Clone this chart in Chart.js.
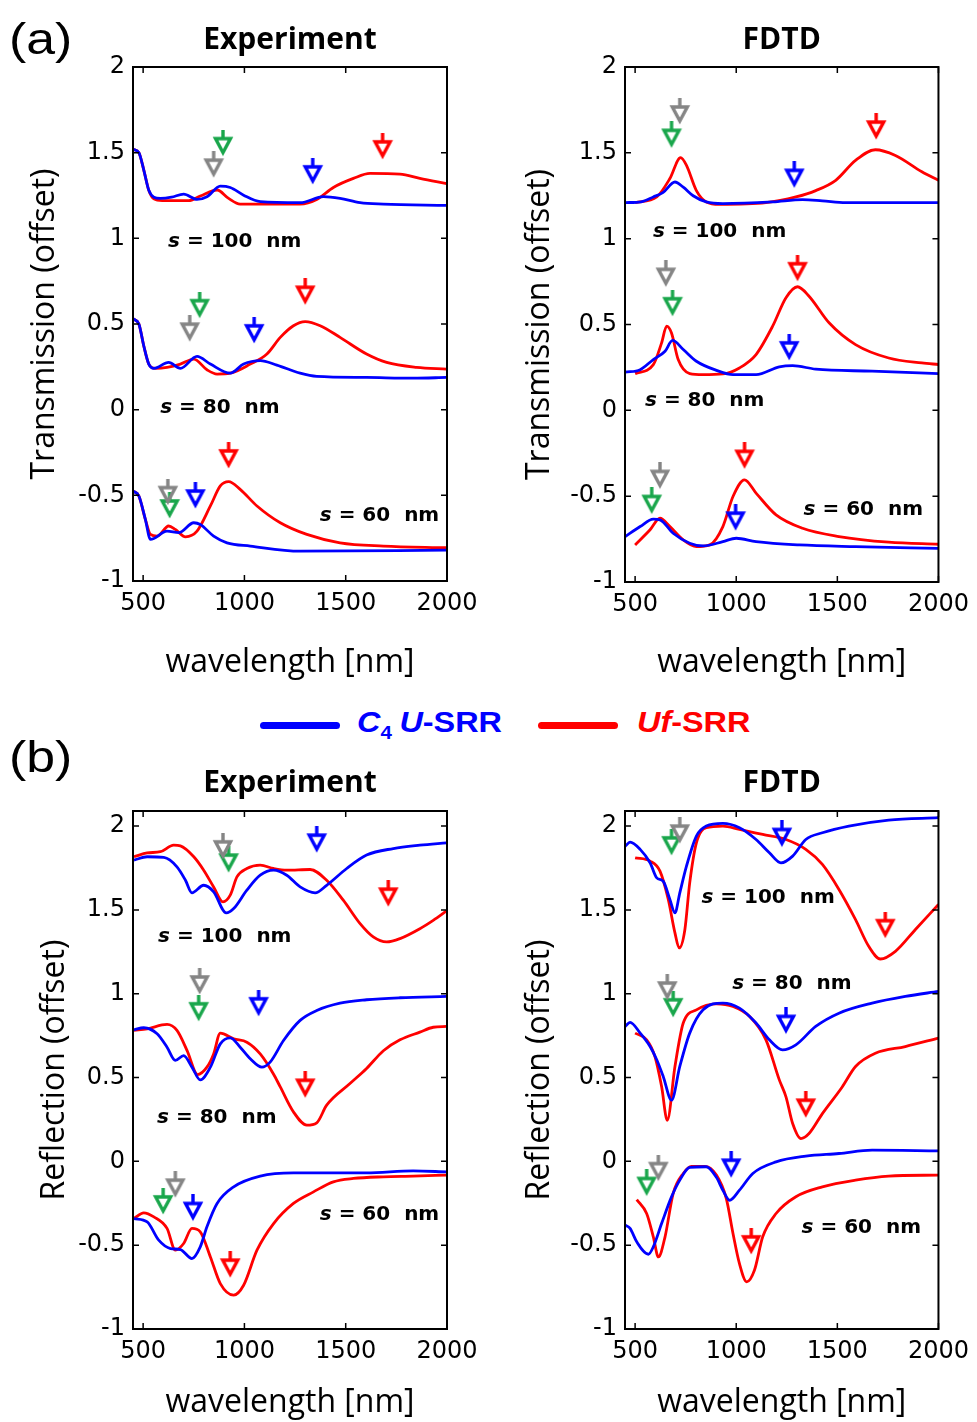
<!DOCTYPE html>
<html lang="en">
<head>
<meta charset="UTF-8" />
<title>C4 U-SRR vs Uf-SRR spectra</title>
<script src="https://cdn.jsdelivr.net/npm/chart.js"></script>
<style>
    body { margin: 0; background: #fff; }
    #page { position: relative; width: 977px; height: 1422px; overflow: hidden; font-family: "Liberation Sans", Arial, sans-serif; }
    canvas { position: absolute; }
    .tag { position: absolute; font-size: 45px; color: #000; transform: scaleX(1.15); transform-origin: left top; }
    .legend { position: absolute; top: 705px; left: 0; width: 977px; height: 40px; }
    .swatch { position: absolute; top: 17px; width: 80px; height: 7px; border-radius: 4px; }
    .ltext { position: absolute; top: 0; font-weight: bold; font-size: 30px; white-space: nowrap; transform: scaleX(1.08); transform-origin: left top; }
    .ltext i { font-style: italic; }
    .ltext sub { font-size: 19px; font-style: normal; vertical-align: -7px; margin-right: 7px; }
</style>
</head>
<body>
<div id="page">
    <div class="tag" style="left:9px; top:13px;">(a)</div>
    <div class="tag" style="left:9px; top:731px;">(b)</div>
    <canvas id="tExp" width="490" height="690" style="left:0; top:0;"></canvas>
    <canvas id="tFdtd" width="487" height="690" style="left:490px; top:0;"></canvas>
    <canvas id="rExp" width="490" height="672" style="left:0; top:750px;"></canvas>
    <canvas id="rFdtd" width="487" height="672" style="left:490px; top:750px;"></canvas>
    <div class="legend">
        <div class="swatch" style="left:260px; background:#0000ff;"></div>
        <div class="ltext" style="left:357px; color:#0000ff;"><i>C</i><sub>4</sub><i>U</i>-SRR</div>
        <div class="swatch" style="left:538px; background:#ff0000;"></div>
        <div class="ltext" style="left:637px; color:#ff0000;"><i>Uf</i>-SRR</div>
    </div>
</div>
<script>
// axis ticks
const wavelengthTicks = [500, 1000, 1500, 2000];
const offsetTicks = [-1, -0.5, 0, 0.5, 1, 1.5, 2];
const spacingLabels = ["100", "80", "60"];

// (a) transmission, experiment  [wavelength nm, value]
const tExp100C4 = [[451,1.52],[479,1.50],[503,1.40],[528,1.28],[553,1.24],[585,1.233],[640,1.24],[700,1.258],[766,1.227],[815,1.243],[881,1.305],[930,1.297],[996,1.252],[1078,1.214],[1275,1.208],[1390,1.243],[1472,1.233],[1571,1.208],[1686,1.2],[1998,1.192]];
const tExp100Uf = [[451,1.52],[479,1.50],[503,1.40],[528,1.28],[553,1.23],[594,1.22],[725,1.22],[782,1.247],[865,1.282],[922,1.233],[979,1.20],[1111,1.20],[1275,1.20],[1357,1.227],[1439,1.297],[1538,1.35],[1620,1.379],[1768,1.375],[1866,1.35],[1998,1.32]];
const tExp80C4 = [[451,0.53],[479,0.50],[503,0.373],[528,0.266],[553,0.241],[626,0.276],[684,0.241],[766,0.311],[832,0.266],[930,0.213],[996,0.266],[1078,0.286],[1160,0.26],[1275,0.213],[1357,0.194],[1603,0.188],[1833,0.184],[1998,0.188]];
const tExp80Uf = [[451,0.53],[479,0.50],[503,0.373],[528,0.266],[561,0.241],[618,0.247],[684,0.266],[750,0.295],[815,0.233],[865,0.208],[930,0.213],[1029,0.266],[1111,0.325],[1177,0.422],[1242,0.49],[1300,0.514],[1374,0.49],[1472,0.422],[1603,0.325],[1702,0.276],[1850,0.247],[1998,0.237]];
const tExp60C4 = [[451,-0.475],[479,-0.504],[511,-0.64],[536,-0.757],[618,-0.709],[676,-0.718],[750,-0.66],[782,-0.67],[848,-0.738],[914,-0.777],[1029,-0.796],[1275,-0.826],[1998,-0.82]];
const tExp60Uf = [[451,-0.475],[479,-0.504],[511,-0.64],[536,-0.728],[569,-0.738],[626,-0.679],[659,-0.699],[709,-0.742],[766,-0.709],[832,-0.562],[881,-0.445],[922,-0.42],[979,-0.465],[1062,-0.562],[1177,-0.66],[1308,-0.728],[1472,-0.777],[1686,-0.796],[1998,-0.806]];

// (a) transmission, FDTD
const tFdtd100C4 = [[451,1.21],[530,1.215],[590,1.243],[639,1.27],[697,1.33],[738,1.30],[787,1.25],[852,1.214],[934,1.204],[1180,1.214],[1328,1.227],[1426,1.22],[1541,1.21],[2000,1.21]];
const tFdtd100Uf = [[500,1.21],[607,1.243],[672,1.35],[725,1.472],[754,1.427],[803,1.28],[852,1.214],[918,1.20],[1147,1.21],[1295,1.243],[1393,1.28],[1492,1.34],[1590,1.456],[1688,1.518],[1787,1.485],[1918,1.39],[2000,1.34]];
const tFdtd80C4 = [[451,0.222],[525,0.237],[590,0.296],[648,0.344],[685,0.407],[738,0.354],[803,0.286],[902,0.233],[984,0.208],[1098,0.208],[1213,0.253],[1279,0.26],[1393,0.24],[1672,0.228],[2000,0.214]];
const tFdtd80Uf = [[500,0.214],[590,0.266],[631,0.393],[656,0.49],[680,0.45],[713,0.296],[770,0.214],[836,0.208],[934,0.212],[1016,0.247],[1098,0.325],[1180,0.49],[1246,0.656],[1303,0.72],[1360,0.665],[1459,0.51],[1590,0.383],[1754,0.305],[1918,0.276],[2000,0.267]];
const tFdtd60C4 = [[451,-0.735],[525,-0.677],[590,-0.634],[623,-0.638],[688,-0.716],[770,-0.774],[836,-0.79],[934,-0.765],[1000,-0.745],[1098,-0.765],[1311,-0.784],[1590,-0.794],[2000,-0.804]];
const tFdtd60Uf = [[500,-0.784],[574,-0.696],[623,-0.628],[672,-0.677],[738,-0.755],[803,-0.794],[869,-0.784],[934,-0.677],[984,-0.502],[1041,-0.405],[1098,-0.482],[1197,-0.609],[1328,-0.687],[1508,-0.735],[1754,-0.768],[2000,-0.78]];

// (b) reflection, experiment
const rExp100C4 = [[455,1.797],[520,1.817],[602,1.813],[667,1.757],[709,1.677],[741,1.602],[799,1.647],[848,1.608],[910,1.482],[947,1.508],[1012,1.618],[1078,1.707],[1144,1.737],[1209,1.707],[1275,1.637],[1349,1.602],[1406,1.647],[1505,1.747],[1603,1.827],[1735,1.866],[1866,1.886],[1998,1.90]];
const rExp100Uf = [[455,1.817],[520,1.84],[585,1.847],[651,1.886],[684,1.882],[750,1.817],[799,1.737],[848,1.637],[894,1.548],[930,1.588],[963,1.697],[1012,1.747],[1078,1.767],[1144,1.747],[1209,1.737],[1324,1.741],[1406,1.677],[1488,1.558],[1571,1.418],[1636,1.339],[1702,1.309],[1768,1.329],[1866,1.388],[1932,1.438],[1998,1.494]];
const rExp80C4 = [[455,0.785],[503,0.797],[569,0.761],[618,0.681],[659,0.602],[700,0.631],[741,0.562],[782,0.486],[832,0.562],[881,0.701],[930,0.737],[979,0.681],[1029,0.612],[1086,0.562],[1127,0.592],[1193,0.721],[1275,0.841],[1357,0.90],[1472,0.944],[1603,0.964],[1768,0.976],[1998,0.984]];
const rExp80Uf = [[455,0.781],[520,0.791],[618,0.817],[667,0.781],[717,0.661],[769,0.518],[815,0.562],[848,0.641],[881,0.765],[947,0.731],[1012,0.711],[1078,0.641],[1144,0.52],[1177,0.444],[1242,0.295],[1308,0.216],[1357,0.23],[1406,0.335],[1521,0.464],[1603,0.554],[1686,0.66],[1768,0.725],[1866,0.771],[1932,0.80],[1998,0.805]];
const rExp60C4 = [[455,-0.341],[520,-0.361],[577,-0.47],[635,-0.52],[684,-0.526],[741,-0.58],[782,-0.51],[815,-0.39],[865,-0.251],[947,-0.152],[1078,-0.088],[1242,-0.069],[1603,-0.069],[1833,-0.057],[1998,-0.063]];
const rExp60Uf = [[455,-0.341],[503,-0.307],[553,-0.331],[618,-0.40],[659,-0.53],[700,-0.49],[741,-0.40],[782,-0.42],[832,-0.57],[881,-0.729],[947,-0.798],[996,-0.739],[1062,-0.53],[1144,-0.371],[1242,-0.251],[1341,-0.182],[1439,-0.122],[1538,-0.102],[1686,-0.092],[1833,-0.088],[1998,-0.082]];

// (b) reflection, FDTD
const rFdtd100C4 = [[451,1.88],[475,1.904],[525,1.861],[574,1.781],[607,1.691],[639,1.671],[672,1.562],[697,1.482],[721,1.602],[754,1.761],[803,1.94],[852,2.0],[934,2.016],[1016,1.99],[1098,1.92],[1164,1.841],[1221,1.781],[1279,1.821],[1344,1.92],[1426,1.96],[1557,2.0],[1754,2.036],[2000,2.05]];
const rFdtd100Uf = [[500,1.811],[574,1.791],[623,1.731],[664,1.562],[697,1.363],[718,1.273],[746,1.382],[770,1.661],[803,1.90],[852,1.99],[934,2.0],[1016,1.98],[1131,1.95],[1246,1.92],[1344,1.861],[1426,1.771],[1508,1.622],[1590,1.442],[1655,1.283],[1713,1.207],[1787,1.253],[1885,1.382],[2000,1.532]];
const rFdtd80C4 = [[451,0.805],[475,0.829],[525,0.765],[574,0.685],[607,0.606],[639,0.506],[680,0.365],[721,0.566],[770,0.765],[836,0.904],[934,0.944],[1016,0.914],[1098,0.825],[1164,0.725],[1229,0.665],[1295,0.695],[1393,0.805],[1508,0.884],[1672,0.944],[1836,0.984],[2000,1.014]];
const rFdtd80Uf = [[500,0.765],[557,0.725],[598,0.625],[631,0.446],[659,0.245],[697,0.566],[738,0.825],[803,0.904],[902,0.94],[984,0.924],[1065,0.865],[1147,0.725],[1213,0.486],[1246,0.385],[1279,0.226],[1320,0.136],[1360,0.166],[1426,0.285],[1524,0.444],[1590,0.566],[1688,0.645],[1836,0.685],[2000,0.735]];
const rFdtd60C4 = [[451,-0.381],[475,-0.40],[508,-0.48],[566,-0.554],[590,-0.51],[631,-0.371],[680,-0.212],[721,-0.112],[770,-0.036],[852,-0.032],[902,-0.095],[934,-0.172],[967,-0.232],[1016,-0.172],[1082,-0.072],[1197,-0.003],[1344,0.031],[1508,0.047],[1672,0.067],[2000,0.063]];
const rFdtd60Uf = [[508,-0.228],[557,-0.311],[590,-0.45],[615,-0.57],[648,-0.45],[688,-0.192],[738,-0.072],[779,-0.03],[844,-0.03],[902,-0.082],[951,-0.222],[984,-0.43],[1016,-0.61],[1052,-0.719],[1090,-0.65],[1131,-0.45],[1197,-0.311],[1295,-0.211],[1426,-0.152],[1590,-0.112],[1754,-0.088],[2000,-0.082]];

// resonance markers (s = 100, 80, 60)
const tExpGray = [[848,1.427],[730,0.47],[622,-0.484]];
const tExpGreen = [[894,1.553],[779,0.607],[631,-0.562]];
const tExpBlue = [[1337,1.388],[1048,0.46],[758,-0.504]];
const tExpRed = [[1682,1.534],[1300,0.685],[922,-0.27]];
const tFdtdGray = [[721,1.738],[652,0.792],[623,-0.385]];
const tFdtdGreen = [[680,1.602],[685,0.621],[582,-0.531]];
const tFdtdBlue = [[1287,1.369],[1262,0.364],[997,-0.628]];
const tFdtdRed = [[1692,1.65],[1303,0.825],[1041,-0.268]];
const rExpGray = [[894,1.876],[779,1.07],[659,-0.142]];
const rExpGreen = [[922,1.797],[774,0.91],[599,-0.242]];
const rExpBlue = [[1357,1.916],[1070,0.94],[746,-0.281]];
const rExpRed = [[1710,1.594],[1300,0.454],[930,-0.619]];
const rFdtdGray = [[721,1.97],[659,1.034],[615,-0.043]];
const rFdtdGreen = [[680,1.90],[688,0.934],[557,-0.132]];
const rFdtdBlue = [[1226,1.95],[1246,0.835],[975,-0.023]];
const rFdtdRed = [[1737,1.406],[1344,0.335],[1074,-0.48]];

// where the "s = ... nm" captions sit (data units, left edge)
const tExpLabelAt = [[623,0.98],[584,0.01],[1372,-0.62]];
const tFdtdLabelAt = [[588,1.04],[549,0.057],[1333,-0.58]];
const rExpLabelAt = [[574,1.34],[569,0.26],[1372,-0.32]];
const rFdtdLabelAt = [[828,1.575],[980,1.06],[1323,-0.395]];

const BLUE = "#0000ff", RED = "#ff0000", GREEN = "#19a64b", GRAY = "#858585";
const TICK_FONT = { family: "'DejaVu Sans', Verdana, sans-serif", size: 24 };
const TITLE_FONT = { family: "'Open Sans', sans-serif", size: 32, lineHeight: 1.2 };

function pts(arr) {
    return arr.map(([x, y]) => ({ x: x, y: y }));
}

// open down-pointing triangle with a short stem
function arrowGlyph(color) {
    const c = document.createElement("canvas");
    c.width = 22;
    c.height = 28;
    const g = c.getContext("2d");
    g.strokeStyle = color;
    g.lineWidth = 3.4;
    g.beginPath();
    g.moveTo(11, 0);
    g.lineTo(11, 9);
    g.stroke();
    g.beginPath();
    g.moveTo(3.5, 9);
    g.lineTo(18.5, 9);
    g.lineTo(11, 23);
    g.closePath();
    g.stroke();
    return c;
}

const glyphs = { gray: arrowGlyph(GRAY), green: arrowGlyph(GREEN), blue: arrowGlyph(BLUE), red: arrowGlyph(RED) };

const framePlugin = {
    id: "frame",
    afterDraw(chart) {
        const { ctx, chartArea: a, scales } = chart;
        const x = scales.x, y = scales.y;
        ctx.save();
        ctx.strokeStyle = "#000";
        ctx.lineWidth = 1.5;
        ctx.beginPath();
        x.ticks.forEach((t) => {
            const px = x.getPixelForValue(t.value);
            ctx.moveTo(px, a.bottom); ctx.lineTo(px, a.bottom - 6);
            ctx.moveTo(px, a.top); ctx.lineTo(px, a.top + 6);
        });
        y.ticks.forEach((t) => {
            const py = y.getPixelForValue(t.value);
            ctx.moveTo(a.left, py); ctx.lineTo(a.left + 6, py);
            ctx.moveTo(a.right, py); ctx.lineTo(a.right - 6, py);
        });
        ctx.stroke();
        ctx.lineWidth = 2;
        ctx.strokeRect(a.left, a.top, a.right - a.left, a.bottom - a.top);
        ctx.restore();
    },
};

const spacingPlugin = {
    id: "spacing",
    afterDatasetsDraw(chart, args, opts) {
        const { ctx, scales } = chart;
        ctx.save();
        ctx.fillStyle = "#000";
        ctx.textBaseline = "middle";
        opts.at.forEach(([wl, v], i) => {
            let px = scales.x.getPixelForValue(wl);
            const py = scales.y.getPixelForValue(v);
            ctx.font = "italic bold 20px 'DejaVu Sans', Verdana";
            ctx.fillText("s", px, py);
            px += ctx.measureText("s").width;
            ctx.font = "bold 20px 'DejaVu Sans', Verdana";
            ctx.fillText(" = " + spacingLabels[i] + "  nm", px, py);
        });
        ctx.restore();
    },
};

function buildPanel(id, p) {
    const datasets = [];
    [["gray", p.gray], ["green", p.green], ["blue", p.blue], ["red", p.red]].forEach(([k, arr]) => {
        datasets.push({ data: pts(arr), showLine: false, pointStyle: glyphs[k], pointRadius: 10 });
    });
    p.c4.forEach((arr) => datasets.push({ data: pts(arr), borderColor: BLUE, borderWidth: 2.8, pointRadius: 0, cubicInterpolationMode: "monotone" }));
    p.uf.forEach((arr) => datasets.push({ data: pts(arr), borderColor: RED, borderWidth: 2.8, pointRadius: 0, cubicInterpolationMode: "monotone" }));

    new Chart(document.getElementById(id), {
        type: "line",
        data: { datasets: datasets },
        options: {
            responsive: false,
            animation: false,
            events: [],
            layout: { padding: { left: 0, right: p.padRight, top: 0, bottom: 0 } },
            plugins: {
                legend: { display: false },
                tooltip: { enabled: false },
                title: {
                    display: true,
                    text: p.title,
                    fullSize: false,
                    color: "#000",
                    font: { family: "'Open Sans', sans-serif", size: 30, weight: "bold", lineHeight: 1.2 },
                    padding: { top: p.titleTop, bottom: p.titleBottom },
                },
                spacing: { at: p.labelAt },
            },
            scales: {
                x: {
                    type: "linear",
                    min: 450,
                    max: 2000,
                    afterBuildTicks: (s) => { s.ticks = wavelengthTicks.map((v) => ({ value: v })); },
                    afterFit: (s) => { s.height = p.xAxisH; },
                    grid: { display: false, drawTicks: false },
                    border: { display: false },
                    ticks: { color: "#000", padding: 8, maxRotation: 0, font: TICK_FONT, callback: (v) => String(v) },
                    title: { display: true, text: "wavelength [nm]", color: "#000", font: TITLE_FONT, padding: { top: 0, bottom: p.xTitleBottom } },
                },
                y: {
                    type: "linear",
                    min: -1,
                    max: p.yMax,
                    afterBuildTicks: (s) => { s.ticks = offsetTicks.map((v) => ({ value: v })); },
                    afterFit: (s) => { s.width = p.yAxisW; },
                    grid: { display: false, drawTicks: false },
                    border: { display: false },
                    ticks: { color: "#000", padding: 8, autoSkip: false, font: TICK_FONT, callback: (v) => String(v) },
                    title: { display: true, text: p.yTitle, color: "#000", font: TITLE_FONT, padding: { top: p.yTitlePad, bottom: 0 } },
                },
            },
        },
        plugins: [framePlugin, spacingPlugin],
    });
}

buildPanel("tExp", {
    title: "Experiment", yTitle: "Transmission (offset)", yMax: 2,
    c4: [tExp100C4, tExp80C4, tExp60C4], uf: [tExp100Uf, tExp80Uf, tExp60Uf],
    gray: tExpGray, green: tExpGreen, blue: tExpBlue, red: tExpRed, labelAt: tExpLabelAt,
    padRight: 43, yAxisW: 133, xAxisH: 109, titleTop: 22, titleBottom: 9, xTitleBottom: 8, yTitlePad: 26,
});
buildPanel("tFdtd", {
    title: "FDTD", yTitle: "Transmission (offset)", yMax: 2,
    c4: [tFdtd100C4, tFdtd80C4, tFdtd60C4], uf: [tFdtd100Uf, tFdtd80Uf, tFdtd60Uf],
    gray: tFdtdGray, green: tFdtdGreen, blue: tFdtdBlue, red: tFdtdRed, labelAt: tFdtdLabelAt,
    padRight: 37, yAxisW: 135, xAxisH: 108, titleTop: 22, titleBottom: 9, xTitleBottom: 8, yTitlePad: 31,
});
buildPanel("rExp", {
    title: "Experiment", yTitle: "Reflection (offset)", yMax: 2.09,
    c4: [rExp100C4, rExp80C4, rExp60C4], uf: [rExp100Uf, rExp80Uf, rExp60Uf],
    gray: rExpGray, green: rExpGreen, blue: rExpBlue, red: rExpRed, labelAt: rExpLabelAt,
    padRight: 43, yAxisW: 133, xAxisH: 93, titleTop: 15, titleBottom: 10, xTitleBottom: 0, yTitlePad: 36,
});
buildPanel("rFdtd", {
    title: "FDTD", yTitle: "Reflection (offset)", yMax: 2.09,
    c4: [rFdtd100C4, rFdtd80C4, rFdtd60C4], uf: [rFdtd100Uf, rFdtd80Uf, rFdtd60Uf],
    gray: rFdtdGray, green: rFdtdGreen, blue: rFdtdBlue, red: rFdtdRed, labelAt: rFdtdLabelAt,
    padRight: 36, yAxisW: 135, xAxisH: 93, titleTop: 15, titleBottom: 10, xTitleBottom: 0, yTitlePad: 31,
});
</script>
</body>
</html>
